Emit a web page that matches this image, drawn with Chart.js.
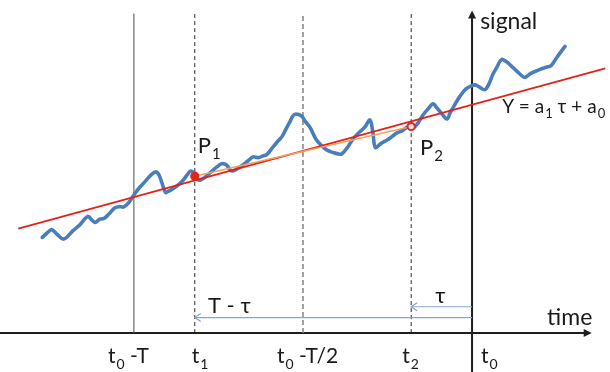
<!DOCTYPE html>
<html>
<head>
<meta charset="utf-8">
<title>Signal trend over a sliding window</title>
<script src="https://cdn.jsdelivr.net/npm/chart.js@4.4.1/dist/chart.umd.min.js"></script>
<style>
  html, body { margin: 0; padding: 0; background: #fff; }
  #wrap { width: 610px; height: 372px; }
</style>
</head>
<body>
<div id="wrap"><canvas id="chart" width="610" height="372"></canvas></div>
<script>
// time in units where t0 = 0 and the window length T = 10, tau = 1.8
const timeTicks = [-10, -8.2, -5, -1.8, 0];
const timeTickLabels = ["t_0 -T", "t_1", "t_0 -T/2", "t_2", "t_0"];

const signalTime = [
  -12.71, -12.57, -12.43, -12.28, -12.09, -11.95, -11.80, -11.60, -11.36, -11.24,
  -11.14, -11.01, -10.89, -10.74, -10.56, -10.41, -10.30, -10.16, -9.97, -9.82,
  -9.67, -9.53, -9.38, -9.29, -9.20, -9.07, -8.99, -8.88, -8.73, -8.58,
  -8.43, -8.33, -8.25, -8.18, -8.09, -8.02, -7.86, -7.66, -7.51, -7.40,
  -7.26, -7.14, -7.01, -6.78, -6.63, -6.48, -6.33, -6.18, -6.07, -5.89,
  -5.74, -5.62, -5.50, -5.38, -5.30, -5.21, -5.04, -4.94, -4.79, -4.62,
  -4.44, -4.29, -4.11, -3.96, -3.85, -3.70, -3.58, -3.46, -3.31, -3.17,
  -3.02, -2.93, -2.86, -2.69, -2.51, -2.37, -2.22, -2.07, -1.92, -1.80,
  -1.72, -1.60, -1.45, -1.30, -1.15, -1.04, -0.92, -0.74, -0.65, -0.53,
  -0.36, -0.18, 0.00, 0.09, 0.21, 0.38, 0.50, 0.62, 0.74, 0.87,
  1.01, 1.15, 1.33, 1.45, 1.57, 1.69, 1.80, 2.01, 2.19, 2.34,
  2.46, 2.60, 2.75
];
const signalValue = [
  2.83, 2.96, 3.06, 2.93, 2.78, 2.87, 3.03, 3.20, 3.45, 3.34,
  3.27, 3.37, 3.39, 3.52, 3.71, 3.74, 3.73, 3.85, 4.13, 4.32,
  4.48, 4.64, 4.76, 4.73, 4.53, 4.16, 4.19, 4.25, 4.35, 4.48,
  4.67, 4.79, 4.76, 4.64, 4.53, 4.53, 4.64, 4.82, 4.94, 5.01,
  4.97, 4.81, 4.82, 4.97, 5.09, 5.21, 5.19, 5.24, 5.28, 5.50,
  5.68, 5.81, 6.04, 6.26, 6.42, 6.48, 6.42, 6.27, 6.08, 5.74,
  5.53, 5.41, 5.34, 5.30, 5.30, 5.47, 5.65, 5.81, 5.96, 6.09,
  6.30, 5.92, 5.49, 5.61, 5.71, 5.81, 5.92, 5.98, 6.09, 6.12,
  6.08, 6.21, 6.45, 6.63, 6.78, 6.66, 6.52, 6.33, 6.51, 6.72,
  7.00, 7.22, 7.32, 7.34, 7.28, 7.20, 7.37, 7.66, 7.87, 8.09,
  8.03, 7.91, 7.74, 7.63, 7.56, 7.65, 7.71, 7.80, 7.86, 7.91,
  8.08, 8.28, 8.48
];

// least squares line Y = a1*tau + a0 drawn across the plot
const fitTime = [-13.42, 3.94];
const fitValue = [3.09, 7.83];

// P1 at t1, P2 at t2
const pointTime = [-8.2, -1.8];
const pointValue = [4.64, 6.11];

// lag arrows: tau (t0 -> t2) and T - tau (t0 -> t1)
const lagTargets = [-1.8, -8.2];
const lagLevels = [0.78, 0.46];

const xRange = [-13.96, 4.08];
const yRange = [-1.15, 9.85];
const timeAxisEnd = 3.42;
const signalAxisTop = 9.42;
const signalAxisBottom = -1.15;
const guideTop = 9.45;

const axisColor = "#1e1e1e";
const textColor = "#1a1a1a";
const lagColor = "#86a6cb";

function xy(xs, ys) {
  return xs.map((v, i) => ({ x: v, y: ys[i] }));
}

function segment(x0, y0, x1, y1, color, width, dash, order) {
  return {
    data: [{ x: x0, y: y0 }, { x: x1, y: y1 }],
    showLine: true,
    borderColor: color,
    borderWidth: width,
    borderDash: dash || [],
    pointRadius: 0,
    order: order,
  };
}

const guideStyles = [
  { color: "#4d4d4d", width: 1, dash: [] },
  { color: "#2a2a2a", width: 1, dash: [4, 3] },
  { color: "#8a8a8a", width: 1.6, dash: [5, 3] },
  { color: "#2a2a2a", width: 1, dash: [4, 3] },
];

const datasets = [];

// red markers P1, P2
datasets.push({
  data: xy(pointTime, pointValue),
  showLine: false,
  pointRadius: 3.6,
  pointBorderWidth: 2,
  pointBorderColor: "#e0261f",
  pointBackgroundColor: ["#e0261f", "#fdeaea"],
  order: 0,
});

// chord P1 -> P2
datasets.push(segment(pointTime[0], pointValue[0], pointTime[1], pointValue[1], "#f5a05a", 1.6, null, 1));

// fitted line
datasets.push({
  data: xy(fitTime, fitValue),
  showLine: true,
  borderColor: "#e3221c",
  borderWidth: 1.8,
  pointRadius: 0,
  order: 2,
});

// signal
datasets.push({
  data: xy(signalTime, signalValue),
  showLine: true,
  borderColor: "#4a7ebb",
  borderWidth: 3.6,
  tension: 0.35,
  borderCapStyle: "round",
  borderJoinStyle: "round",
  pointRadius: 0,
  order: 3,
});

// vertical guides at t0-T, t1, t0-T/2, t2
timeTicks.slice(0, 4).forEach((t, i) => {
  const s = guideStyles[i];
  datasets.push(segment(t, 0, t, guideTop, s.color, s.width, s.dash, 5));
});

// lag arrows
lagTargets.forEach((t, i) => {
  datasets.push(segment(timeTicks[4], lagLevels[i], t, lagLevels[i], lagColor, 1.2, null, 4));
});

// axes
datasets.push(segment(xRange[0], 0, timeAxisEnd, 0, axisColor, 2, null, 6));
datasets.push(segment(timeTicks[4], signalAxisBottom, timeTicks[4], signalAxisTop, axisColor, 2, null, 6));

function drawRich(ctx, str, px, py, size) {
  const parts = [];
  for (let i = 0; i < str.length; i++) {
    if (str[i] === "_") {
      parts.push({ t: str[i + 1], sub: true });
      i++;
    } else if (parts.length && !parts[parts.length - 1].sub) {
      parts[parts.length - 1].t += str[i];
    } else {
      parts.push({ t: str[i], sub: false });
    }
  }
  const subSize = Math.round(size * 0.68);
  const font = (s) => s + 'px Lato, "Noto Sans", sans-serif';
  let cx = px;
  ctx.textAlign = "left";
  ctx.textBaseline = "alphabetic";
  parts.forEach((p) => {
    ctx.font = font(p.sub ? subSize : size);
    const dx = p.sub ? 1 : 0;
    ctx.fillText(p.t, cx + dx, py + (p.sub ? size * 0.27 : 0));
    cx += ctx.measureText(p.t).width + dx;
  });
}

const notes = [
  { text: "signal", at: [0.24, 8.99], size: 23 },
  { text: "time", at: [2.22, 0.24], size: 23 },
  { text: "Y = a_1 τ + a_0", at: [0.89, 6.51], size: 19 },
  { text: "P_1", at: [-8.11, 5.33], size: 22 },
  { text: "P_2", at: [-1.54, 5.27], size: 22 },
  { text: "T - τ", at: [-7.81, 0.59], size: 22 },
  { text: "τ", at: [-1.09, 0.89], size: 22 },
];
const tickShift = [-26, -3, -26, -9, 9];
const tickBaseline = -0.89;

const overlay = {
  id: "overlay",
  afterDatasetsDraw(chart) {
    const { ctx } = chart;
    const sx = chart.scales.x;
    const sy = chart.scales.y;
    ctx.save();

    // filled arrowheads at the ends of both axes
    ctx.fillStyle = axisColor;
    const ax = sx.getPixelForValue(timeTicks[4]);
    const ay = sy.getPixelForValue(signalAxisTop);
    ctx.beginPath();
    ctx.moveTo(ax, ay - 4);
    ctx.lineTo(ax - 4, ay + 4);
    ctx.lineTo(ax + 4, ay + 4);
    ctx.closePath();
    ctx.fill();
    const hx = sx.getPixelForValue(timeAxisEnd);
    const hy = sy.getPixelForValue(0);
    ctx.beginPath();
    ctx.moveTo(hx + 4, hy);
    ctx.lineTo(hx - 4, hy - 4);
    ctx.lineTo(hx - 4, hy + 4);
    ctx.closePath();
    ctx.fill();

    // open heads on the lag arrows
    ctx.strokeStyle = lagColor;
    ctx.lineWidth = 1.2;
    lagTargets.forEach((t, i) => {
      const px = sx.getPixelForValue(t);
      const py = sy.getPixelForValue(lagLevels[i]);
      ctx.beginPath();
      ctx.moveTo(px + 6, py - 4);
      ctx.lineTo(px, py);
      ctx.lineTo(px + 6, py + 4);
      ctx.stroke();
    });

    ctx.fillStyle = textColor;
    notes.forEach((n) => {
      drawRich(ctx, n.text, sx.getPixelForValue(n.at[0]), sy.getPixelForValue(n.at[1]), n.size);
    });
    timeTicks.forEach((t, i) => {
      drawRich(ctx, timeTickLabels[i], sx.getPixelForValue(t) + tickShift[i], sy.getPixelForValue(tickBaseline), 21);
    });
    ctx.restore();
  },
};

new Chart(document.getElementById("chart"), {
  type: "scatter",
  data: { datasets },
  options: {
    responsive: false,
    animation: false,
    layout: { padding: 0, autoPadding: false },
    plugins: { legend: { display: false }, tooltip: { enabled: false } },
    scales: {
      x: { type: "linear", display: false, min: xRange[0], max: xRange[1] },
      y: { type: "linear", display: false, min: yRange[0], max: yRange[1] },
    },
  },
  plugins: [overlay],
});
</script>
</body>
</html>
